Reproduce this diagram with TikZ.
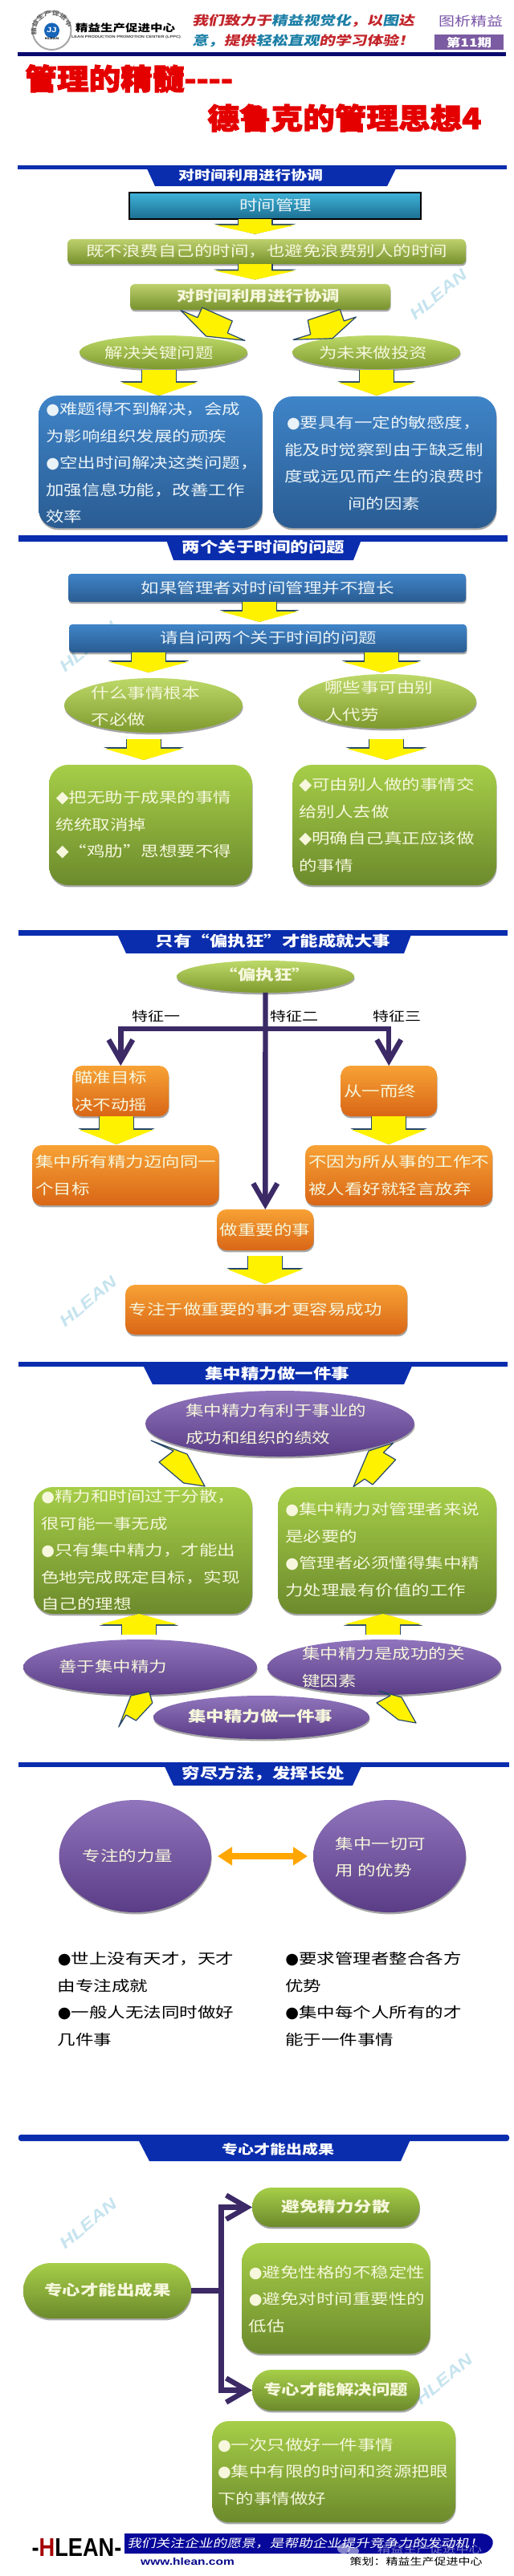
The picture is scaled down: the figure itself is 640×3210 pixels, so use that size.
\documentclass[tikz,border=0pt]{standalone}
\usepackage{fontspec}
\usetikzlibrary{shapes.geometric,arrows.meta,shadows,decorations.text}
\newfontfamily\cjk[FakeStretch=1.25]{Noto Sans CJK SC}
\newfontfamily\cjkit[FakeStretch=1.25,FakeSlant=0.2]{Noto Sans CJK SC}
\newfontfamily\cjkh[FakeStretch=1.1,FakeBold=3]{Noto Sans CJK SC}
\newfontfamily\dv{DejaVu Sans}
\newfontfamily\lat[FakeStretch=1.25]{Liberation Sans}
\newfontfamily\hleanf[FakeStretch=0.85]{Liberation Sans}
\newcommand\bodyf{\cjk\fontsize{9}{16.75}\selectfont}
\newcommand\boldf{\cjk\bfseries\fontsize{9}{16.75}\selectfont}
\newcommand\headf{\cjk\bfseries\fontsize{8}{12}\selectfont}
\newcommand\labf{\cjk\fontsize{8}{12}\selectfont}
\newcommand\bul{{\dv\fontsize{9.6}{9.6}\selectfont ●}}
\newcommand\dia{{\dv\fontsize{10.4}{10.4}\selectfont ◆}}
\definecolor{cream}{HTML}{F6F7DC}
\definecolor{icew}{HTML}{EAF3F8}
\definecolor{arrowedge}{HTML}{27476B}
\definecolor{connc}{HTML}{3B2A66}
\definecolor{bannerc}{HTML}{0A2DAE}
\definecolor{navyc}{HTML}{0A0A6E}
\definecolor{sloganr}{HTML}{C2252B}
\definecolor{slogant}{HTML}{1C7FA6}
\definecolor{purplet}{HTML}{7A55A8}
\definecolor{wmc}{HTML}{C6E4EF}
\definecolor{tealtop}{HTML}{3FB2D8}\definecolor{tealbot}{HTML}{1B6F92}
\definecolor{olivetop}{HTML}{BCD06C}\definecolor{olivebot}{HTML}{77912D}
\definecolor{greentop}{HTML}{A6CE48}\definecolor{greenbot}{HTML}{6C8A2C}
\definecolor{bluetop}{HTML}{3F84C8}\definecolor{bluebot}{HTML}{2A5C92}
\definecolor{orangetop}{HTML}{F7A235}\definecolor{orangebot}{HTML}{D96616}
\definecolor{gelltop}{HTML}{BDD968}\definecolor{gellmid}{HTML}{8FAE3C}\definecolor{gellbot}{HTML}{7E9A2E}
\definecolor{pelltop}{HTML}{9074BC}\definecolor{pellmid}{HTML}{7152A0}\definecolor{pellbot}{HTML}{5A3D86}
\tikzset{
 x=0.5pt,y=-0.5pt,
 softshadow/.style={drop shadow={shadow xshift=0.3pt,shadow yshift=-1.2pt,opacity=.35,fill=black}},
 tealfill/.style={rectangle,draw=black,line width=0.6pt,top color=tealtop,bottom color=tealbot},
 olivefill/.style={rectangle,rounded corners=3pt,top color=olivetop,bottom color=olivebot,softshadow},
 greenfill/.style={rectangle,rounded corners=#1,top color=greentop,bottom color=greenbot,softshadow},
 greenfill/.default=11pt,
 bluefill/.style={rectangle,rounded corners=#1,top color=bluetop,bottom color=bluebot,softshadow},
 bluefill/.default=2pt,
 orangefill/.style={rectangle,rounded corners=#1,top color=orangetop,bottom color=orangebot,softshadow},
 orangefill/.default=6pt,
 greenell/.style={ellipse,top color=gelltop,middle color=gellmid,bottom color=gellbot,softshadow},
 purpleell/.style={ellipse,top color=pelltop,middle color=pellmid,bottom color=pellbot,softshadow},
 wt/.style={inner sep=0pt,font=\bodyf,text=#1,align=left},
 wt/.default=cream,
 wb/.style={inner sep=0pt,font=\boldf,text=#1,align=center},
 wb/.default=cream,
 ht/.style={inner sep=0pt,font=\headf,text=white},
 skewarrow/.style={fill=yellow,draw=arrowedge,line width=0.6pt,line join=round},
 conn/.style={draw=connc,line width=3.2pt,-{Straight Barb[length=13pt,width=15pt]}},
 connplain/.style={draw=connc,line width=3.2pt},
 wmark/.style={inner sep=0pt,font=\lat\bfseries\itshape\fontsize{10}{10}\selectfont,text=wmc,rotate=40},
}
% name, style, x1, y1, x2, y2
\newcommand\shapebox[6]{%
 \pgfmathsetmacro\cxx{(#3+#5)/2}\pgfmathsetmacro\cyy{(#4+#6)/2}%
 \pgfmathsetmacro\www{(#5-#3)*0.5}\pgfmathsetmacro\hhh{(#6-#4)*0.5}%
 \node[#2,minimum width=\www pt,minimum height=\hhh pt,inner sep=0pt,outer sep=0pt] (#1) at (\cxx,\cyy) {};}
% name, x, y start, y tip, head length px, head width px
\newcommand\yarrow[6]{%
 \coordinate (#1s) at (#2,#3);\coordinate (#1e) at (#2,#4);%
 \pgfmathsetmacro\hdl{#5*0.5}\pgfmathsetmacro\hdw{#6*0.5}%
 \pgfmathsetmacro\hdlb{#5*0.5+0.9}\pgfmathsetmacro\hdwb{#6*0.5+1.2}%
 \draw[line cap=butt,draw=arrowedge,line width=22pt,-{Triangle[length=\hdlb pt,width=\hdwb pt]}] (#1s) -- (#1e);%
 \draw[line cap=butt,draw=yellow,line width=20.8pt,-{Triangle[length=\hdl pt,width=\hdw pt]}] (#1s) -- (#1e);}
\begin{document}
\begin{tikzpicture}
\useasboundingbox (0,0) rectangle (640,3210);
\fill[white] (0,0) rectangle (640,3210);

% ---------- header
\draw[gray!70,line width=1pt,fill=white] (64.5,38) circle[radius=24];
\path[decorate,decoration={text along path,text align=center,text={|\cjk\bfseries\fontsize{3.6}{4}\selectfont\color{gray!80!black}|精益生产促进中心}}]
  (45,38) .. controls (45,13) and (84,13) .. (84,38);
\fill[slogant!80!blue] (64.5,38) circle[radius=9.5];
\node[inner sep=0pt,font=\lat\bfseries\fontsize{4.5}{5}\selectfont,text=white] (logoj) at (64.5,37.5) {JJ};
\node[inner sep=0pt,font=\lat\bfseries\fontsize{2}{3}\selectfont,text=black] (logoh) at (64.5,48.5) {HLEAN};
\node[inner sep=0pt,font=\cjk\bfseries\fontsize{6.2}{7}\selectfont,text=black] (logot) at (156,34.5) {精益生产促进中心};
\node[inner sep=0pt,font=\lat\bfseries\fontsize{2.25}{3}\selectfont,text=black!75] (logos) at (157,46.5) {LEAN PRODUCTION PROMOTION CENTER (LPPC)};
\node[inner sep=0pt,anchor=west,font=\cjkit\bfseries\fontsize{7.9}{9}\selectfont] (slog1) at (239,26)
 {\textcolor{sloganr}{我们致力于}\textcolor{slogant}{精益视觉化}\textcolor{sloganr}{，以}\textcolor{slogant}{图}\textcolor{sloganr}{达}};
\node[inner sep=0pt,anchor=west,font=\cjkit\bfseries\fontsize{7.9}{9}\selectfont] (slog2) at (239,51)
 {\textcolor{slogant}{意，}\textcolor{sloganr}{提供}\textcolor{slogant}{轻松直观}\textcolor{sloganr}{的学习体验！}};
\node[inner sep=0pt,font=\cjk\fontsize{8}{9}\selectfont,text=purplet] (tuxi) at (586,26) {图析精益};
\shapebox{qibox}{rectangle,fill=purplet!85!gray}{541}{43.5}{627}{62.5}
\node[inner sep=0pt,font=\cjk\bfseries\fontsize{7}{8}\selectfont,text=white] (qi) at (qibox) {第11期};
\fill[navyc] (22,65) rectangle (630,70);

\node[inner sep=0pt,anchor=west,font=\cjkh\bfseries\fontsize{18}{20}\selectfont,text=red!90!black] (title1) at (31,98) {管理的精髓----};
\node[inner sep=0pt,anchor=west,font=\cjkh\bfseries\fontsize{18}{20}\selectfont,text=red!90!black] (title2) at (258,147) {德鲁克的管理思想4};

% ---------- watermarks
\node[wmark] (wm1) at (546,367) {HLEAN};
\node[wmark] (wm2) at (110,806) {HLEAN};
\node[wmark] (wm3) at (110,1622) {HLEAN};
\node[wmark] (wm4) at (110,2771) {HLEAN};
\node[wmark] (wm5) at (553,2965) {HLEAN};

% ---------- section 1
\fill[bannerc] (22,206) rectangle (631,211);
\fill[bannerc] (182,208) -- (494,208) -- (482,232) -- (193,232) -- cycle;
\node[ht] (h1) at (312,218) {对时间利用进行协调};

\shapebox{s1a}{tealfill}{161}{240}{524}{273}
\node[wb=icew,font=\bodyf] (s1at) at (343,256) {时间管理};
\yarrow{a1}{317.5}{273}{291.7}{11}{100}
\shapebox{s1b}{olivefill}{84}{298}{580}{329}
\node[wt] (s1bt) at (332,313) {既不浪费自己的时间，也避免浪费别人的时间};
\yarrow{a2}{317.5}{329}{348.5}{11}{100}
\shapebox{s1c}{olivefill}{162}{354}{486}{386}
\node[wb] (s1ct) at (322,369) {对时间利用进行协调};

\shapebox{s1l}{greenell}{99}{418}{308}{460}
\node[wt] (s1lt) at (198,440) {解决关键问题};
\shapebox{s1r}{greenell}{364}{418}{573}{460}
\node[wt] (s1rt) at (464.5,440) {为未来做投资};

\draw[skewarrow] (225,386.7) -- (246,395.7) -- (251.7,383.3) -- (289.3,400) -- (283.3,415) -- (305,424.3) -- (256.7,419) -- cycle;
\draw[skewarrow] (423.3,385.7) -- (428.3,400) -- (443.3,395) -- (414,421.7) -- (365,423.3) -- (386.7,416.7) -- (383.3,399) -- cycle;

\yarrow{a3}{198}{461}{493}{16}{94}
\yarrow{a4}{469}{461}{493}{16}{94}
\shapebox{s1p}{bluefill=12pt}{48}{493}{326.5}{658}
\node[wt=icew,anchor=west] (s1pt) at (57,577) {\bul 难题得不到解决，会成\\为影响组织发展的顽疾\\\bul 空出时间解决这类问题，\\加强信息功能，改善工作\\效率};
\shapebox{s1q}{bluefill=12pt}{340}{494}{618}{658}
\node[wt=icew,align=center] (s1qt) at (478,577) {\bul 要具有一定的敏感度，\\能及时觉察到由于缺乏制\\度或远见而产生的浪费时\\间的因素};

% ---------- section 2
\fill[bannerc] (23,667) rectangle (632,675);
\fill[bannerc] (206,670) -- (451,670) -- (440,698) -- (216,698) -- cycle;
\node[inner sep=0pt,font=\boldf,text=white] (h2) at (328,682) {两个关于时间的问题};

\shapebox{s2a}{bluefill}{85}{715}{580}{750}
\node[wt=icew] (s2at) at (333,733) {如果管理者对时间管理并不擅长};
\yarrow{a5}{323}{750}{775}{13}{96}
\shapebox{s2b}{bluefill}{86}{778}{581}{813}
\node[wt=icew] (s2bt) at (334,795) {请自问两个关于时间的问题};
\yarrow{a6}{185}{813}{838}{13}{98}
\yarrow{a7}{475}{813}{838}{13}{96}
\shapebox{s2c}{greenell}{80}{845}{302}{913}
\node[wt,anchor=west] (s2ct) at (113.5,880) {什么事情根本\\不必做};
\shapebox{s2d}{greenell}{371}{840}{593}{908}
\node[wt,anchor=west] (s2dt) at (404,873.5) {哪些事可由别\\人代劳};
\yarrow{a8}{179}{921}{947}{14}{97}
\yarrow{a9}{481}{921}{947}{14}{98}
\shapebox{s2e}{greenfill=12pt}{61}{953}{314}{1103}
\node[wt,anchor=west] (s2et) at (69.5,1028) {\dia 把无助于成果的事情\\统统取消掉\\\dia “鸡肋”思想要不得};
\shapebox{s2f}{greenfill=12pt}{364.5}{953}{618}{1103}
\node[wt,anchor=west] (s2ft) at (372,1028) {\dia 可由别人做的事情交\\给别人去做\\\dia 明确自己真正应该做\\的事情};

% ---------- section 3
\fill[bannerc] (23,1159) rectangle (632,1166);
\fill[bannerc] (145,1162) -- (513,1162) -- (503,1188) -- (157,1188) -- cycle;
\node[inner sep=0pt,font=\boldf,text=white] (h3) at (340,1173) {只有“偏执狂”才能成就大事};

\shapebox{s3a}{greenell}{220}{1197}{441}{1237}
\node[wb] (s3at) at (330,1215) {“偏执狂”};
\shapebox{s3b}{orangefill}{90.6}{1328}{210}{1391}
\node[wt,anchor=west] (s3bt) at (93,1359.5) {瞄准目标\\决不动摇};
\shapebox{s3c}{orangefill}{424.5}{1328}{544}{1391}
\node[wt,anchor=west] (s3ct) at (428,1360) {从一而终};
\shapebox{s3d}{orangefill}{270}{1507}{390.6}{1558}
\node[wt] (s3dt) at (330,1533) {做重要的事};
\coordinate (jc) at (330,1282);
\draw[conn] (s3a.south) -- (s3d.north);
\draw[conn] (jc) -| (s3b.north);
\draw[conn] (jc) -| (s3c.north);
\node[inner sep=0pt,font=\labf,text=black] (f1) at (194,1266) {特征一};
\node[inner sep=0pt,font=\labf,text=black] (f2) at (366,1266) {特征二};
\node[inner sep=0pt,font=\labf,text=black] (f3) at (494,1266) {特征三};
\yarrow{a10}{145}{1391}{1426}{18}{92}
\yarrow{a11}{484}{1391}{1426}{18}{92}
\shapebox{s3e}{orangefill}{40}{1427}{272.6}{1502}
\node[wt,anchor=west] (s3et) at (44,1464.5) {集中所有精力迈向同一\\个目标};
\shapebox{s3f}{orangefill}{380}{1427}{613}{1502}
\node[wt,anchor=west] (s3ft) at (384,1464.5) {不因为所从事的工作不\\被人看好就轻言放弃};
\yarrow{a12}{330}{1565}{1600}{18}{92}
\shapebox{s3g}{orangefill}{156}{1601}{507}{1663}
\node[wt] (s3gt) at (318,1632) {专注于做重要的事才更容易成功};

% ---------- section 4
\fill[bannerc] (23,1697) rectangle (632,1703);
\fill[bannerc] (177.5,1700) -- (514,1700) -- (503,1725) -- (190,1725) -- cycle;
\node[inner sep=0pt,font=\boldf,text=white] (h4) at (345,1712) {集中精力做一件事};

\shapebox{s4a}{purpleell}{181}{1733}{516}{1815}
\node[wt,anchor=west] (s4at) at (231,1774.5) {集中精力有利于事业的\\成功和组织的绩效};
\draw[skewarrow] (188,1795) -- (216,1808) -- (198,1822) -- (228.6,1848) -- (255,1852) -- (233,1812) -- cycle;
\draw[skewarrow] (489.8,1798) -- (477.5,1810) -- (492.6,1819) -- (464,1850) -- (454,1843) -- (440,1852.7) -- (459,1808) -- cycle;

\shapebox{s4b}{greenfill=12pt}{42}{1853}{314}{2011}
\node[wt,anchor=west] (s4bt) at (51,1932) {\bul 精力和时间过于分散，\\很可能一事无成\\\bul 只有集中精力，才能出\\色地完成既定目标，实现\\自己的理想};
\shapebox{s4c}{greenfill=12pt}{346}{1853}{618}{2011}
\node[wt,anchor=west] (s4ct) at (355,1931) {\bul 集中精力对管理者来说\\是必要的\\\bul 管理者必须懂得集中精\\力处理最有价值的工作};
\yarrow{a13}{173}{2037}{2011}{13}{96}
\yarrow{a14}{477}{2037}{2011}{13}{96}
\shapebox{s4d}{purpleell}{29}{2043}{320}{2112}
\node[wt,anchor=west] (s4dt) at (72.6,2077) {善于集中精力};
\shapebox{s4e}{purpleell}{333}{2043}{624}{2112}
\node[wt,anchor=west] (s4et) at (376,2077.5) {集中精力是成功的关\\键因素};
\draw[skewarrow] (185.7,2108) -- (189.8,2122) -- (169.4,2144) -- (157,2137) -- (147.8,2152) -- (163,2113) -- cycle;
\draw[skewarrow] (471.4,2107) -- (500,2115) -- (518,2147) -- (496,2143) -- (469,2122) -- (486,2113) -- cycle;
\shapebox{s4f}{purpleell}{191}{2113}{460}{2167}
\node[wb] (s4ft) at (324,2139) {集中精力做一件事};

% ---------- section 5
\fill[bannerc] (23,2196) rectangle (634,2202);
\fill[bannerc] (204,2199) -- (451,2199) -- (439,2225) -- (216,2225) -- cycle;
\node[inner sep=0pt,font=\boldf,text=white] (h5) at (328,2210) {穷尽方法，发挥长处};

\shapebox{s5a}{purpleell}{73.5}{2243}{263}{2383}
\node[wt] (s5at) at (159,2313) {专注的力量};
\shapebox{s5b}{purpleell}{390}{2243}{580}{2383}
\node[wt,anchor=west] (s5bt) at (417.5,2314) {集中一切可\\用 的优势};
\draw[draw=orange!70!yellow,line width=4pt,{Triangle[length=9pt,width=11pt]}-{Triangle[length=9pt,width=11pt]},shorten <=4pt,shorten >=3.5pt] (s5a.east) -- (s5b.west);
\node[wt=black,anchor=west] (s5ct) at (71.4,2491) {\bul 世上没有天才，天才\\由专注成就\\\bul 一般人无法同时做好\\几件事};
\node[wt=black,anchor=west] (s5dt) at (355,2491) {\bul 要求管理者整合各方\\优势\\\bul 集中每个人所有的才\\能于一件事情};

% ---------- section 6
\fill[bannerc,rounded corners=1.5pt] (23,2660) rectangle (634,2668);
\fill[bannerc] (171,2664) -- (512,2664) -- (499,2693) -- (186,2693) -- cycle;
\node[ht] (h6) at (346,2678) {专心才能出成果};

\shapebox{s6a}{greenfill=17pt}{29}{2820}{238}{2889}
\node[wb] (s6at) at (134,2854) {专心才能出成果};
\shapebox{s6b}{greenfill=12pt}{314}{2726}{522.5}{2775}
\node[wb] (s6bt) at (418,2750) {避免精力分散};
\shapebox{s6c}{greenfill=12pt}{301}{2795}{535.5}{2933}
\node[wt,anchor=west] (s6ct) at (309.4,2865) {\bul 避免性格的不稳定性\\\bul 避免对时间重要性的\\低估};
\shapebox{s6d}{greenfill=12pt}{314}{2953}{522.5}{3004}
\node[wb] (s6dt) at (418,2978) {专心才能解决问题};
\shapebox{s6e}{greenfill=10pt}{264.5}{3017}{567}{3143}
\node[wt,anchor=west] (s6et) at (270.6,3080) {\bul 一次只做好一件事情\\\bul 集中有限的时间和资源把眼\\下的事情做好};
\coordinate (jv) at (275.5,2854.5);
\draw[connplain] (s6a.east) -- (jv);
\draw[conn] (jv) |- (s6b.west);
\draw[conn] (jv) |- (s6d.west);

% ---------- footer
\node[inner sep=0pt,font=\hleanf\bfseries\fontsize{16}{18}\selectfont,text=black] (hl) at (95.5,3174) {-\textcolor{red!65!black}{H}LEAN-};
\fill[navyc!70!blue] (155,3157) -- (598,3157) .. controls (610,3157) and (616,3165) .. (613,3172) .. controls (610,3179) and (605,3182) .. (598,3182) -- (155,3182) -- cycle;
\node[inner sep=0pt,anchor=west,font=\cjkit\fontsize{7.1}{8}\selectfont,text=white] (band) at (158,3169) {我们关注企业的愿景，是帮助企业提升竞争力的发动机！};
\node[inner sep=0pt,font=\lat\bfseries\fontsize{6.2}{8}\selectfont,text=navyc!80!blue] (web) at (233.5,3192) {www.hlean.com};
\node[inner sep=0pt,font=\cjk\fontsize{6}{8}\selectfont,text=black] (ce) at (518,3192) {策划：精益生产促进中心};
\node[inner sep=0pt,font=\cjk\fontsize{6.5}{8}\selectfont,text=white,opacity=.45] (wx) at (535,3177) {精益生产促进中心};
\fill[white,opacity=.5] (428,3176) ellipse[x radius=8,y radius=6];
\fill[white,opacity=.5] (440,3179) ellipse[x radius=7,y radius=5];
\end{tikzpicture}
\end{document}
